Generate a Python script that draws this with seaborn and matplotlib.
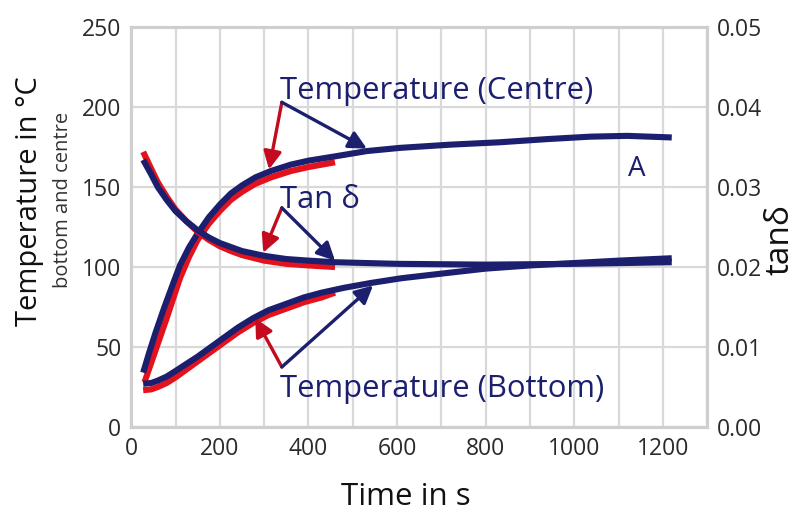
import numpy as np
import pandas as pd
import matplotlib
matplotlib.use("Agg")
import matplotlib.pyplot as plt
import seaborn as sns

sns.set_theme(style="whitegrid")
plt.rcParams['font.family'] = ['Open Sans', 'DejaVu Sans']

NAVY = "#1c1f6e"
RED = "#e3121c"
ARROW_RED = "#c40a1e"
GRID = "#d9d9d9"

# Temperature (Centre), degC
centre_blue_t = [27, 40, 55, 75, 95, 110, 130, 150, 175, 200, 225, 250, 280, 315, 360, 400, 456, 532, 607, 720, 832, 940, 1036, 1120, 1220]
centre_blue_y = [34, 46, 59, 75, 90, 101, 112, 121, 131, 139, 146, 151, 156, 160, 164, 166.5, 169, 172.5, 174.5, 176.5, 178, 180, 181.5, 182, 181]
centre_red_t = [30, 45, 60, 80, 110, 130, 150, 175, 200, 225, 250, 280, 315, 360, 400, 460]
centre_red_y = [28, 40, 52, 68, 93, 106, 117, 127, 135, 142, 147, 152, 156, 160, 162.5, 165.5]

# Temperature (Bottom), degC
bottom_blue_t = [27, 45, 60, 80, 100, 125, 150, 175, 200, 240, 275, 310, 350, 390, 430, 480, 540, 610, 720, 800, 900, 1000, 1100, 1220]
bottom_blue_y = [27, 27.5, 29, 31.5, 35, 39.5, 44, 49, 54, 62, 68, 73, 77, 81, 84, 87, 90, 93, 96.5, 99, 101, 102.5, 104, 105.5]
bottom_red_t = [27, 45, 60, 80, 100, 125, 150, 175, 200, 240, 275, 310, 350, 390, 430, 460]
bottom_red_y = [23, 23.5, 25, 27.5, 31, 36, 41, 46, 51, 59, 65, 70, 74, 78, 81, 84]

# tan delta
tan_blue_t = [27, 45, 60, 80, 100, 125, 150, 175, 200, 250, 300, 350, 400, 460, 600, 800, 1000, 1220]
tan_blue_d = [0.0334, 0.0316, 0.0300, 0.0284, 0.0270, 0.0257, 0.0246, 0.0237, 0.0230, 0.0220, 0.0214, 0.0210, 0.0208, 0.0206, 0.0204, 0.0203, 0.0204, 0.0206]
tan_red_t = [27, 45, 60, 80, 100, 125, 150, 175, 200, 225, 250, 300, 350, 400, 460]
tan_red_d = [0.0344, 0.0323, 0.0306, 0.0288, 0.0272, 0.0257, 0.0244, 0.0234, 0.0226, 0.0220, 0.0215, 0.0208, 0.0204, 0.0202, 0.0200]

# annotation anchors (time, degC): label origin, red tip, blue tip
ann_labels = ["Temperature (Centre)", "Tan δ", "Temperature (Bottom)"]
ann_origin = [(340, 203), (340, 137), (340, 37.5)]
ann_red_tip = [(311, 161), (298, 109), (280, 68)]
ann_blue_tip = [(532, 174), (460, 104), (546, 88.5)]
ann_text_y = [210, 142, 24]

fig = plt.figure(figsize=(8, 5.16), dpi=100)
ax = fig.add_axes([0.164, 0.1725, 0.72, 0.775])
ax2 = ax.twinx()

def draw(axis, t, y, color, lw):
    df = pd.DataFrame({"t": t, "y": y})
    sns.lineplot(data=df, x="t", y="y", ax=axis, color=color, lw=lw,
                 sort=False, estimator=None, solid_capstyle="butt")

draw(ax, centre_red_t, centre_red_y, RED, 4.4)
draw(ax, bottom_red_t, bottom_red_y, RED, 4.4)
draw(ax, centre_blue_t, centre_blue_y, NAVY, 4.4)
draw(ax, bottom_blue_t, bottom_blue_y, NAVY, 4.4)
draw(ax2, tan_red_t, tan_red_d, RED, 4.4)
draw(ax2, tan_blue_t, tan_blue_d, NAVY, 4.4)

ax.set_xlim(0, 1300)
ax.set_ylim(0, 250)
ax2.set_ylim(0, 0.05)
ax.set_xticks(np.arange(0, 1301, 100))
ax.set_xticklabels(["0", "", "200", "", "400", "", "600", "", "800", "", "1000", "", "1200", ""])
ax.set_yticks(np.arange(0, 251, 50))
ax2.set_yticks(np.arange(0, 0.051, 0.01))
ax2.set_yticklabels([f"{v:.2f}" for v in np.arange(0, 0.051, 0.01)])
ax2.grid(False)
ax.grid(True, color=GRID, lw=1.6)
ax.set_xlabel("")
ax.set_ylabel("")
ax2.set_ylabel("")
for a in (ax, ax2):
    a.tick_params(length=0, labelsize=16.5, colors="#2a2a2a", pad=7)
    for s in a.spines.values():
        s.set_color("#cfcfcf")
        s.set_linewidth(2.2)

for lab, o, rt, bt, ty in zip(ann_labels, ann_origin, ann_red_tip, ann_blue_tip, ann_text_y):
    ax2.text(o[0] - 4, ty, lab, transform=ax.transData, color=NAVY, fontsize=22.3,
             ha="left", va="center", zorder=10)
    for tip, col in ((rt, ARROW_RED), (bt, NAVY)):
        ax2.annotate("", xy=tip, xytext=o, xycoords=ax.transData, textcoords=ax.transData,
                     arrowprops=dict(arrowstyle="-|>,head_length=0.9,head_width=0.45",
                                     color=col, lw=2.4, shrinkA=0, shrinkB=0),
                     zorder=10)

ax2.text(1140, 161, "A", transform=ax.transData, color=NAVY, fontsize=20,
         ha="center", va="center")

fig.text(0.037, 0.61, "Temperature in °C", rotation=90, fontsize=21,
         ha="center", va="center", color="#111111")
fig.text(0.079, 0.612, "bottom and centre", rotation=90, fontsize=14.5,
         ha="center", va="center", color="#333333")
fig.text(0.975, 0.535, "tanδ", rotation=90, fontsize=24,
         ha="center", va="center", color="#111111")
fig.text(0.507, 0.037, "Time in s", fontsize=22.5, ha="center", va="center",
         color="#111111")

fig.savefig("out.png", dpi=100)
